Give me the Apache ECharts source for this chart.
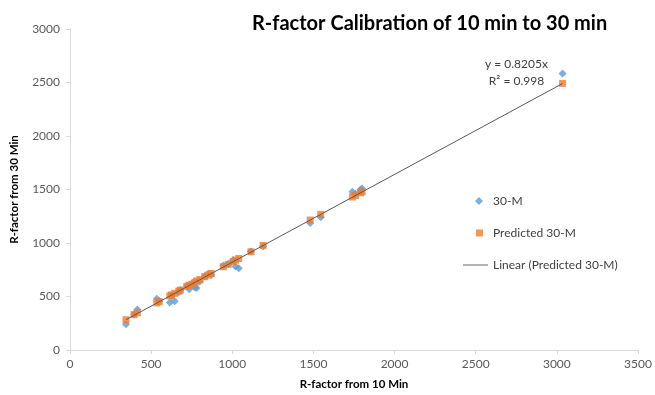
<!DOCTYPE html>
<html>
<head>
<meta charset="utf-8">
<script src="https://cdn.jsdelivr.net/npm/echarts@6/dist/echarts.min.js"></script>
<style>
  html, body { margin: 0; padding: 0; background: #fff; }
  #chart { width: 655px; height: 395px; }
</style>
</head>
<body>
<div id="chart"></div>
<script>
// R-factor from 10 min (x) and 30 min (measured / predicted)
const rf10 = [345, 395, 415, 535, 550, 615, 625, 645, 670, 680, 720, 735, 750, 770, 780, 800,
  830, 850, 870, 945, 975, 1005, 1020, 1040, 1115, 1190, 1480, 1545, 1740, 1760, 1790, 1800, 3035];
const measured30 = [240, 335, 378, 478, 455, 445, 505, 455, 540, 560, 600, 568, 620, 585, 580, 640,
  690, 710, 700, 790, 805, 840, 780, 765, 920, 968, 1188, 1240, 1480, 1460, 1500, 1510, 2585];
const predicted30 = [283, 330, 348, 440, 452, 505, 515, 530, 550, 560, 595, 605, 615, 632, 645, 658,
  685, 700, 715, 778, 800, 825, 840, 855, 918, 978, 1215, 1268, 1430, 1445, 1470, 1478, 2492];

// trendline shown on the chart: y = 0.8205x, R² = 0.998
const slope = 0.8205;
const rSquared = 0.998;
const trendX = [Math.min(...rf10), Math.max(...rf10)];

const xTicks = { min: 0, max: 3500, interval: 500 };
const yTicks = { min: 0, max: 3000, interval: 500 };

const FONT = 'Lato, "Open Sans", sans-serif';
const axisGrey = '#d9d9d9';
const labelGrey = '#595959';

const chart = echarts.init(document.getElementById('chart'));

const axisCommon = {
  type: 'value',
  splitLine: { show: false },
  axisLine: { show: true, lineStyle: { color: axisGrey, width: 1 } },
  axisTick: { show: true, length: 4, lineStyle: { color: axisGrey } },
  axisLabel: { color: labelGrey, fontSize: 12, fontFamily: FONT, formatter: v => String(v) },
  nameLocation: 'middle',
  nameTextStyle: { color: '#000', fontSize: 11.5, fontWeight: 'bold', fontFamily: FONT }
};

chart.setOption({
  animation: false,
  backgroundColor: '#fff',
  title: {
    text: 'R-factor Calibration of 10 min to 30 min',
    left: 247,
    top: 9,
    textStyle: { fontSize: 20, fontWeight: 'bold', color: '#000', fontFamily: FONT }
  },
  grid: { left: 67.5, right: 17, top: 29, bottom: 44 },
  xAxis: Object.assign({}, axisCommon, xTicks, {
    name: 'R-factor from 10 Min',
    nameGap: 28,
    axisLabel: Object.assign({}, axisCommon.axisLabel, { margin: 8 })
  }),
  yAxis: Object.assign({}, axisCommon, yTicks, {
    name: 'R-factor from 30 Min',
    nameGap: 50,
    axisLabel: Object.assign({}, axisCommon.axisLabel, { margin: 10 })
  }),
  legend: [
    {
      data: ['30-M'], orient: 'vertical', left: 470, top: 190,
      itemWidth: 8, itemHeight: 8, icon: 'diamond',
      textStyle: { color: '#404040', fontSize: 12, fontFamily: FONT, padding: [0, 0, 0, 5] }
    },
    {
      data: ['Predicted 30-M'], orient: 'vertical', left: 471, top: 222,
      itemWidth: 7, itemHeight: 7, icon: 'rect',
      textStyle: { color: '#404040', fontSize: 12, fontFamily: FONT, padding: [0, 0, 0, 5] }
    },
    {
      data: ['Linear (Predicted 30-M)'], orient: 'vertical', left: 458, top: 254,
      itemWidth: 25, itemHeight: 1.2, icon: 'rect',
      textStyle: { color: '#404040', fontSize: 12, fontFamily: FONT }
    }
  ],
  graphic: [{
    type: 'text',
    left: 485,
    top: 56,
    style: {
      text: 'y = ' + slope + 'x\nR² = ' + rSquared,
      fill: '#404040',
      font: '12px ' + FONT,
      textAlign: 'center',
      lineHeight: 17
    }
  }],
  series: [
    {
      name: '30-M',
      type: 'scatter',
      symbol: 'diamond',
      symbolSize: 8,
      itemStyle: { color: '#5b9bd5' },
      data: rf10.map((x, i) => [x, measured30[i]]),
      z: 2
    },
    {
      name: 'Predicted 30-M',
      type: 'scatter',
      symbol: 'rect',
      symbolSize: 7,
      itemStyle: { color: '#ed7d31' },
      data: rf10.map((x, i) => [x, predicted30[i]]),
      z: 3
    },
    {
      name: 'Linear (Predicted 30-M)',
      type: 'line',
      showSymbol: false,
      symbol: 'none',
      lineStyle: { color: '#595959', width: 1 },
      itemStyle: { color: '#808080' },
      data: trendX.map(x => [x, slope * x]),
      z: 4
    }
  ]
});
</script>
</body>
</html>
